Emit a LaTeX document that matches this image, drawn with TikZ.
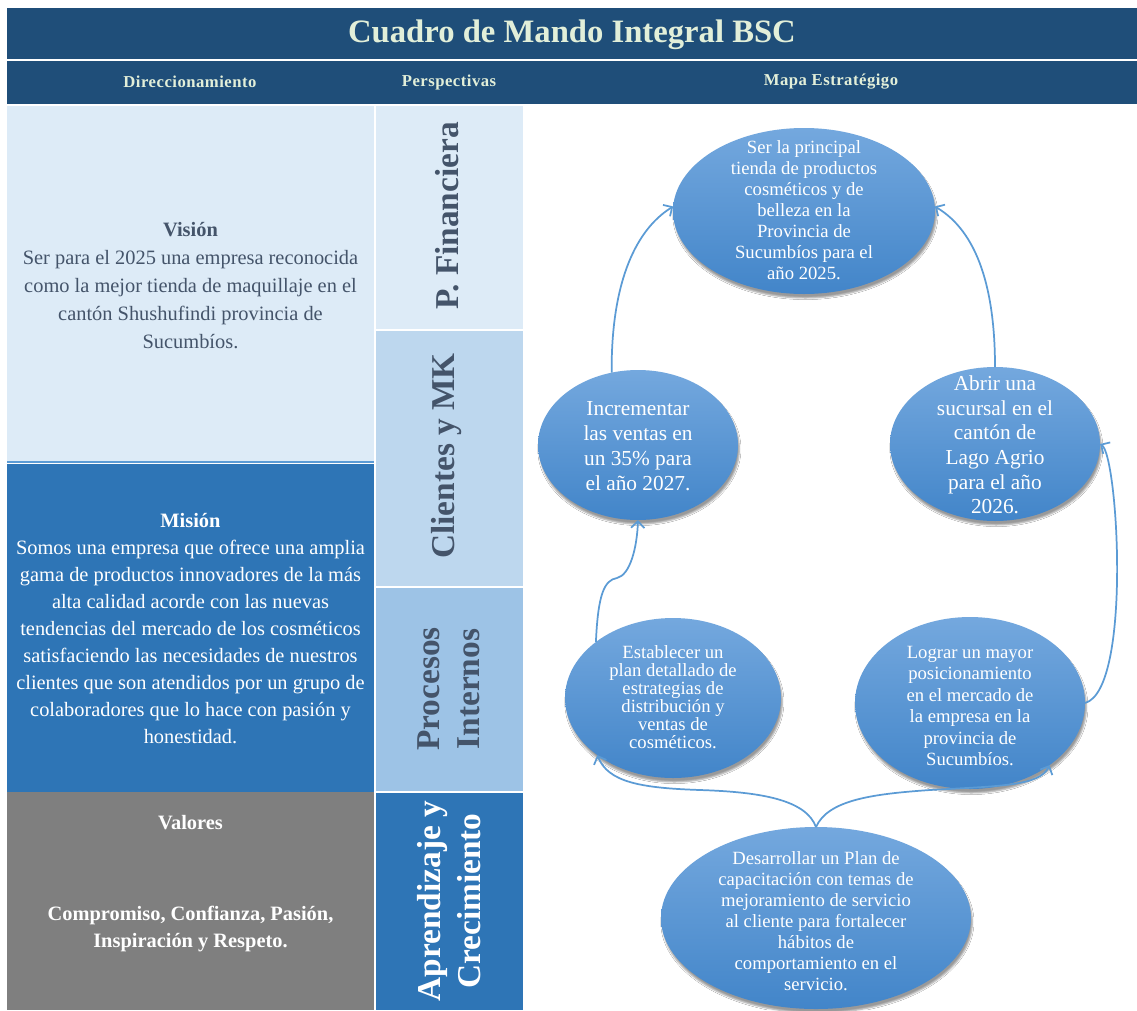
\documentclass[tikz,border=0pt]{standalone}
\usepackage{fontspec}
\setmainfont{Liberation Serif}
\usetikzlibrary{shapes.geometric,arrows.meta,shadows.blur}

\definecolor{band}{HTML}{1F4E79}
\definecolor{cream}{HTML}{E2EFD9}
\definecolor{palecell}{HTML}{DDEBF7}
\definecolor{lightcell}{HTML}{BDD7EE}
\definecolor{softcell}{HTML}{9DC3E6}
\definecolor{strongcell}{HTML}{2E75B6}
\definecolor{greycell}{HTML}{7F7F7F}
\definecolor{slate}{HTML}{44546A}
\definecolor{linkblue}{HTML}{5B9BD5}
\definecolor{ovaltop}{RGB}{116,168,222}
\definecolor{ovalbottom}{RGB}{66,133,201}

\begin{document}
\begin{tikzpicture}[x=0.75pt,y=-0.75pt,
  oval/.style={ellipse, inner sep=0pt, outer sep=0pt, draw=none,
    top color=ovaltop, bottom color=ovalbottom,
    blur shadow={shadow xshift=1pt, shadow yshift=-3pt,
      shadow blur radius=1.2pt, shadow opacity=40}},
  ovaltext/.style={text=white, align=center, inner sep=0pt},
  bodytext/.style={align=center, inner sep=0pt,
    font=\fontsize{15.3}{20.25}\selectfont},
  headtext/.style={text=cream, inner sep=0pt,
    font=\fontsize{12.5}{14}\selectfont\bfseries\addfontfeature{LetterSpace=3}},
  persp/.style={rotate=90, align=center, inner sep=0pt,
    font=\fontsize{25}{30}\selectfont\bfseries},
  link/.style={draw=linkblue, line width=1.3pt,
    -{Straight Barb[length=5pt,width=10pt]}}
]
\useasboundingbox (0,0) rectangle (1137,1010);
\fill[white] (0,0) rectangle (1137,1010);

% title and header bands
\fill[band] (7,8) rectangle (1137,59);
\fill[band] (7,61) rectangle (1137,104);
\node[text=cream, inner sep=0pt, font=\fontsize{24.5}{28}\selectfont\bfseries]
  (title) at (572,35) {Cuadro de Mando Integral BSC};
\node[headtext] (hdir) at (190,82) {Direccionamiento};
\node[headtext] (hper) at (449,82) {Perspectivas};
\node[headtext] (hmap) at (831,82) {Mapa Estratégigo};

% left column: vision, mission, values
\fill[palecell] (7,106) rectangle (374,461);
\draw[linkblue, line width=0.8pt] (7,462) -- (374,462);
\fill[strongcell] (7,464) rectangle (374,792);
\fill[greycell] (7,792) rectangle (374,1010);

\node[bodytext, text=slate, font=\fontsize{15.3}{21}\selectfont] (vision) at (190.5,286) {%
  \textbf{Visión}\\
  Ser para el 2025 una empresa reconocida\\
  como la mejor tienda de maquillaje en el\\
  cantón Shushufindi provincia de\\
  Sucumbíos.};
\node[bodytext, text=white] (mision) at (190.5,629) {%
  \textbf{Misión}\\
  Somos una empresa que ofrece una amplia\\
  gama de productos innovadores de la más\\
  alta calidad acorde con las nuevas\\
  tendencias del mercado de los cosméticos\\
  satisfaciendo las necesidades de nuestros\\
  clientes que son atendidos por un grupo de\\
  colaboradores que lo hace con pasión y\\
  honestidad.};
\node[bodytext, text=white, font=\fontsize{15.3}{20.25}\selectfont\bfseries]
  (valores) at (190.5,823) {Valores};
\node[bodytext, text=white, font=\fontsize{15.3}{20.25}\selectfont\bfseries]
  (valtext) at (190.5,929) {Compromiso, Confianza, Pasión,\\Inspiración y Respeto.};

% perspectives column
\fill[palecell] (376,106) rectangle (523,329);
\fill[lightcell] (376,331) rectangle (523,586);
\fill[softcell] (376,588) rectangle (523,791);
\fill[strongcell] (376,793) rectangle (523,1010);
\node[persp, text=slate] (pfin) at (447,216) {P. Financiera};
\node[persp, text=slate] (pcli) at (447,456) {Clientes y MK};
\node[persp, text=slate] (pint) at (449,689) {Procesos\\Internos};
\node[persp, text=white] (papr) at (449,901) {Aprendizaje y\\Crecimiento};

% strategy map: objectives
\node[oval, minimum width=196.5pt, minimum height=124.5pt] (e1) at (804,211) {};
\node[oval, minimum width=150pt, minimum height=112.5pt] (e2) at (638,445) {};
\node[oval, minimum width=157.5pt, minimum height=115.5pt] (e3) at (995,444) {};
\node[oval, minimum width=162pt, minimum height=120pt] (e4) at (673,698) {};
\node[oval, minimum width=172.5pt, minimum height=129pt] (e5) at (970,703) {};
\node[oval, minimum width=232.5pt, minimum height=136.5pt] (e6) at (816,918) {};

\node[ovaltext, font=\fontsize{14}{15.75}\selectfont] (t1) at (804,210) {%
  Ser la principal\\tienda de productos\\cosméticos y de\\belleza en la\\
  Provincia de\\Sucumbíos para el\\año 2025.};
\node[ovaltext, font=\fontsize{16}{18.75}\selectfont] (t2) at (638,446) {%
  Incrementar\\las ventas en\\un 35\% para\\el año 2027.};
\node[ovaltext, font=\fontsize{16}{18.4}\selectfont] (t3) at (995,445) {%
  Abrir una\\sucursal en el\\cantón de\\Lago Agrio\\para el año\\2026.};
\node[ovaltext, font=\fontsize{14}{13.4}\selectfont] (t4) at (673,697) {%
  Establecer un\\plan detallado de\\estrategias de\\distribución y\\
  ventas de\\cosméticos.};
\node[ovaltext, font=\fontsize{14}{16.1}\selectfont] (t5) at (970,706) {%
  Lograr un mayor\\posicionamiento\\en el mercado de\\la empresa en la\\
  provincia de\\Sucumbíos.};
\node[ovaltext, font=\fontsize{14}{15.75}\selectfont] (t6) at (816,921) {%
  Desarrollar un Plan de\\capacitación con temas de\\mejoramiento de servicio\\
  al cliente para fortalecer\\hábitos de\\comportamiento en el\\servicio.};

% cause and effect links
\draw[link] (e2.110) .. controls (611,290) and (632,232) .. (e1.178);
\draw[link] (e3.north) .. controls (995,290) and (978,232) .. (e1.2);
\draw[link] (e5.east) .. controls (1132,690) and (1118,455) .. (e3.east);
\draw[link] (e4.144) .. controls (598,595) and (604,580) .. (617,578)
  .. controls (630,575) and (637,548) .. (e2.south);
\draw[link] (e6.north) .. controls (806,800) and (762,792) .. (700,790)
  .. controls (640,788) and (608,782) .. (e4.217);
\draw[link] (e6.north) .. controls (828,800) and (872,794) .. (930,790)
  .. controls (1000,786) and (1040,786) .. (e5.322);
\end{tikzpicture}
\end{document}
